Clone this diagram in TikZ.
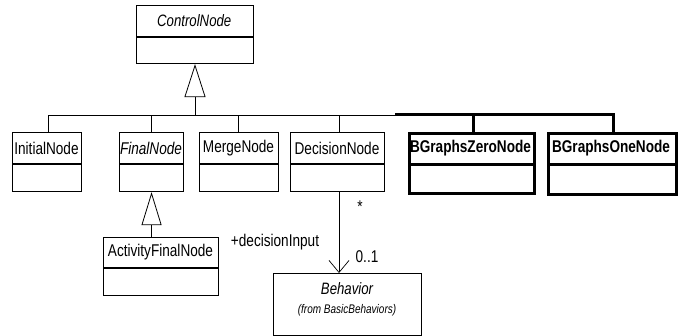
\documentclass[tikz,border=0pt]{standalone}
\usepackage{fontspec}
\setmainfont{Liberation Sans}[FakeStretch=0.8]
\usetikzlibrary{arrows.meta}
\tikzset{
  cls/.style={draw, line width=1.1pt, inner sep=0pt, anchor=north west},
  clsthick/.style={draw, line width=3pt, inner sep=0pt, anchor=north west},
  lbl/.style={inner sep=0pt, font=\fontsize{17}{19}\selectfont},
  gen/.style={line width=0.8pt},
  genthick/.style={line width=3pt},
  gentip/.style={-{Triangle[open, length=33pt, width=21pt, line width=0.8pt]}},
  assoc/.style={line width=0.7pt, -{Straight Barb[length=12pt, width=20pt, line width=0.7pt]}},
}
\newcommand{\umlcls}[9]{%
  % #1 name #2 x1 #3 y1 #4 x2 #5 ydiv #6 y2 #7 text #8 box style #9 text font
  \node[#8, minimum width=#4pt-#2pt, minimum height=#6pt-#3pt] (#1) at (#2,#3) {};
  \draw[#8] (#1.west |- 0,#5) -- (#1.east |- 0,#5);
  \node[lbl, font=#9] (#1-t) at ({(#2+#4)/2},{(#3+#5)/2}) {#7};
}
\begin{document}
\begin{tikzpicture}[x=1pt,y=-1pt]
\useasboundingbox (0,0) rectangle (687,336);
\fill[white] (0,0) rectangle (687,336);

\umlcls{ctrl}{136}{5}{252.5}{37}{63}{ControlNode}{cls}{\fontsize{16.5}{18}\selectfont\itshape}
\umlcls{init}{12}{132}{81}{164}{191}{InitialNode}{cls}{\fontsize{17}{19}\selectfont}
\umlcls{final}{119}{132}{183}{164}{191}{FinalNode}{cls}{\fontsize{17}{19}\selectfont\itshape}
\umlcls{merge}{199}{132}{278}{164}{191}{MergeNode}{cls}{\fontsize{17}{19}\selectfont}
\umlcls{dec}{290}{132}{384}{164}{191}{DecisionNode}{cls}{\fontsize{17}{19}\selectfont}
\umlcls{bzero}{408}{132}{533}{165}{192}{BGraphsZeroNode}{clsthick}{\fontsize{17}{19}\selectfont\bfseries}
\umlcls{bone}{547}{132}{675}{165}{193}{BGraphsOneNode}{clsthick}{\fontsize{17}{19}\selectfont\bfseries}
\umlcls{afin}{103}{237}{218}{268}{295}{ActivityFinalNode}{cls}{\fontsize{17}{19}\selectfont}

% Behavior (no divider)
\node[cls, minimum width=148pt, minimum height=62pt] (beh) at (273,273) {};
\node[lbl, font=\fontsize{16.5}{18}\selectfont\itshape] (beh-t) at (347,289) {Behavior};
\node[lbl, font=\fontsize{12.5}{14}\selectfont\itshape] (beh-f) at (347,310) {(from BasicBehaviors)};

% generalization tree to ControlNode
\coordinate (j0) at (195,115);
\coordinate (jL) at (48,115);
\coordinate (jT) at (395,115);
\coordinate (jR) at (613,115);
\draw[gen, gentip] (j0) -- (ctrl.south -| j0);
\draw[gen] (jL) -- (jT);
\draw[genthick] (jT) -- ([xshift=1.5pt]jR);
\draw[gen] (init.north -| jL) -- (jL);
\draw[gen] (final.north) -- (final.north |- j0);
\draw[gen] (merge.north -| 238,0) -- (238,115);
\draw[gen] (dec.north -| 339,0) -- (339,115);
\draw[genthick] (bzero.north -| 473,0) -- (473,115);
\draw[genthick] (bone.north -| jR) -- (jR);

% ActivityFinalNode -> FinalNode
\draw[gen, -{Triangle[open, length=33pt, width=20pt, line width=0.8pt]}] (afin.north -| final.south) -- (final.south);

% DecisionNode -> Behavior
\draw[assoc] (dec.south -| 339,0) -- (beh.north -| 339,0);
\node[lbl] (star) at (360,207) {*};
\node[lbl] (din) at (275,242) {+decisionInput};
\node[lbl] (mult) at (367,257) {0..1};
\end{tikzpicture}
\end{document}
